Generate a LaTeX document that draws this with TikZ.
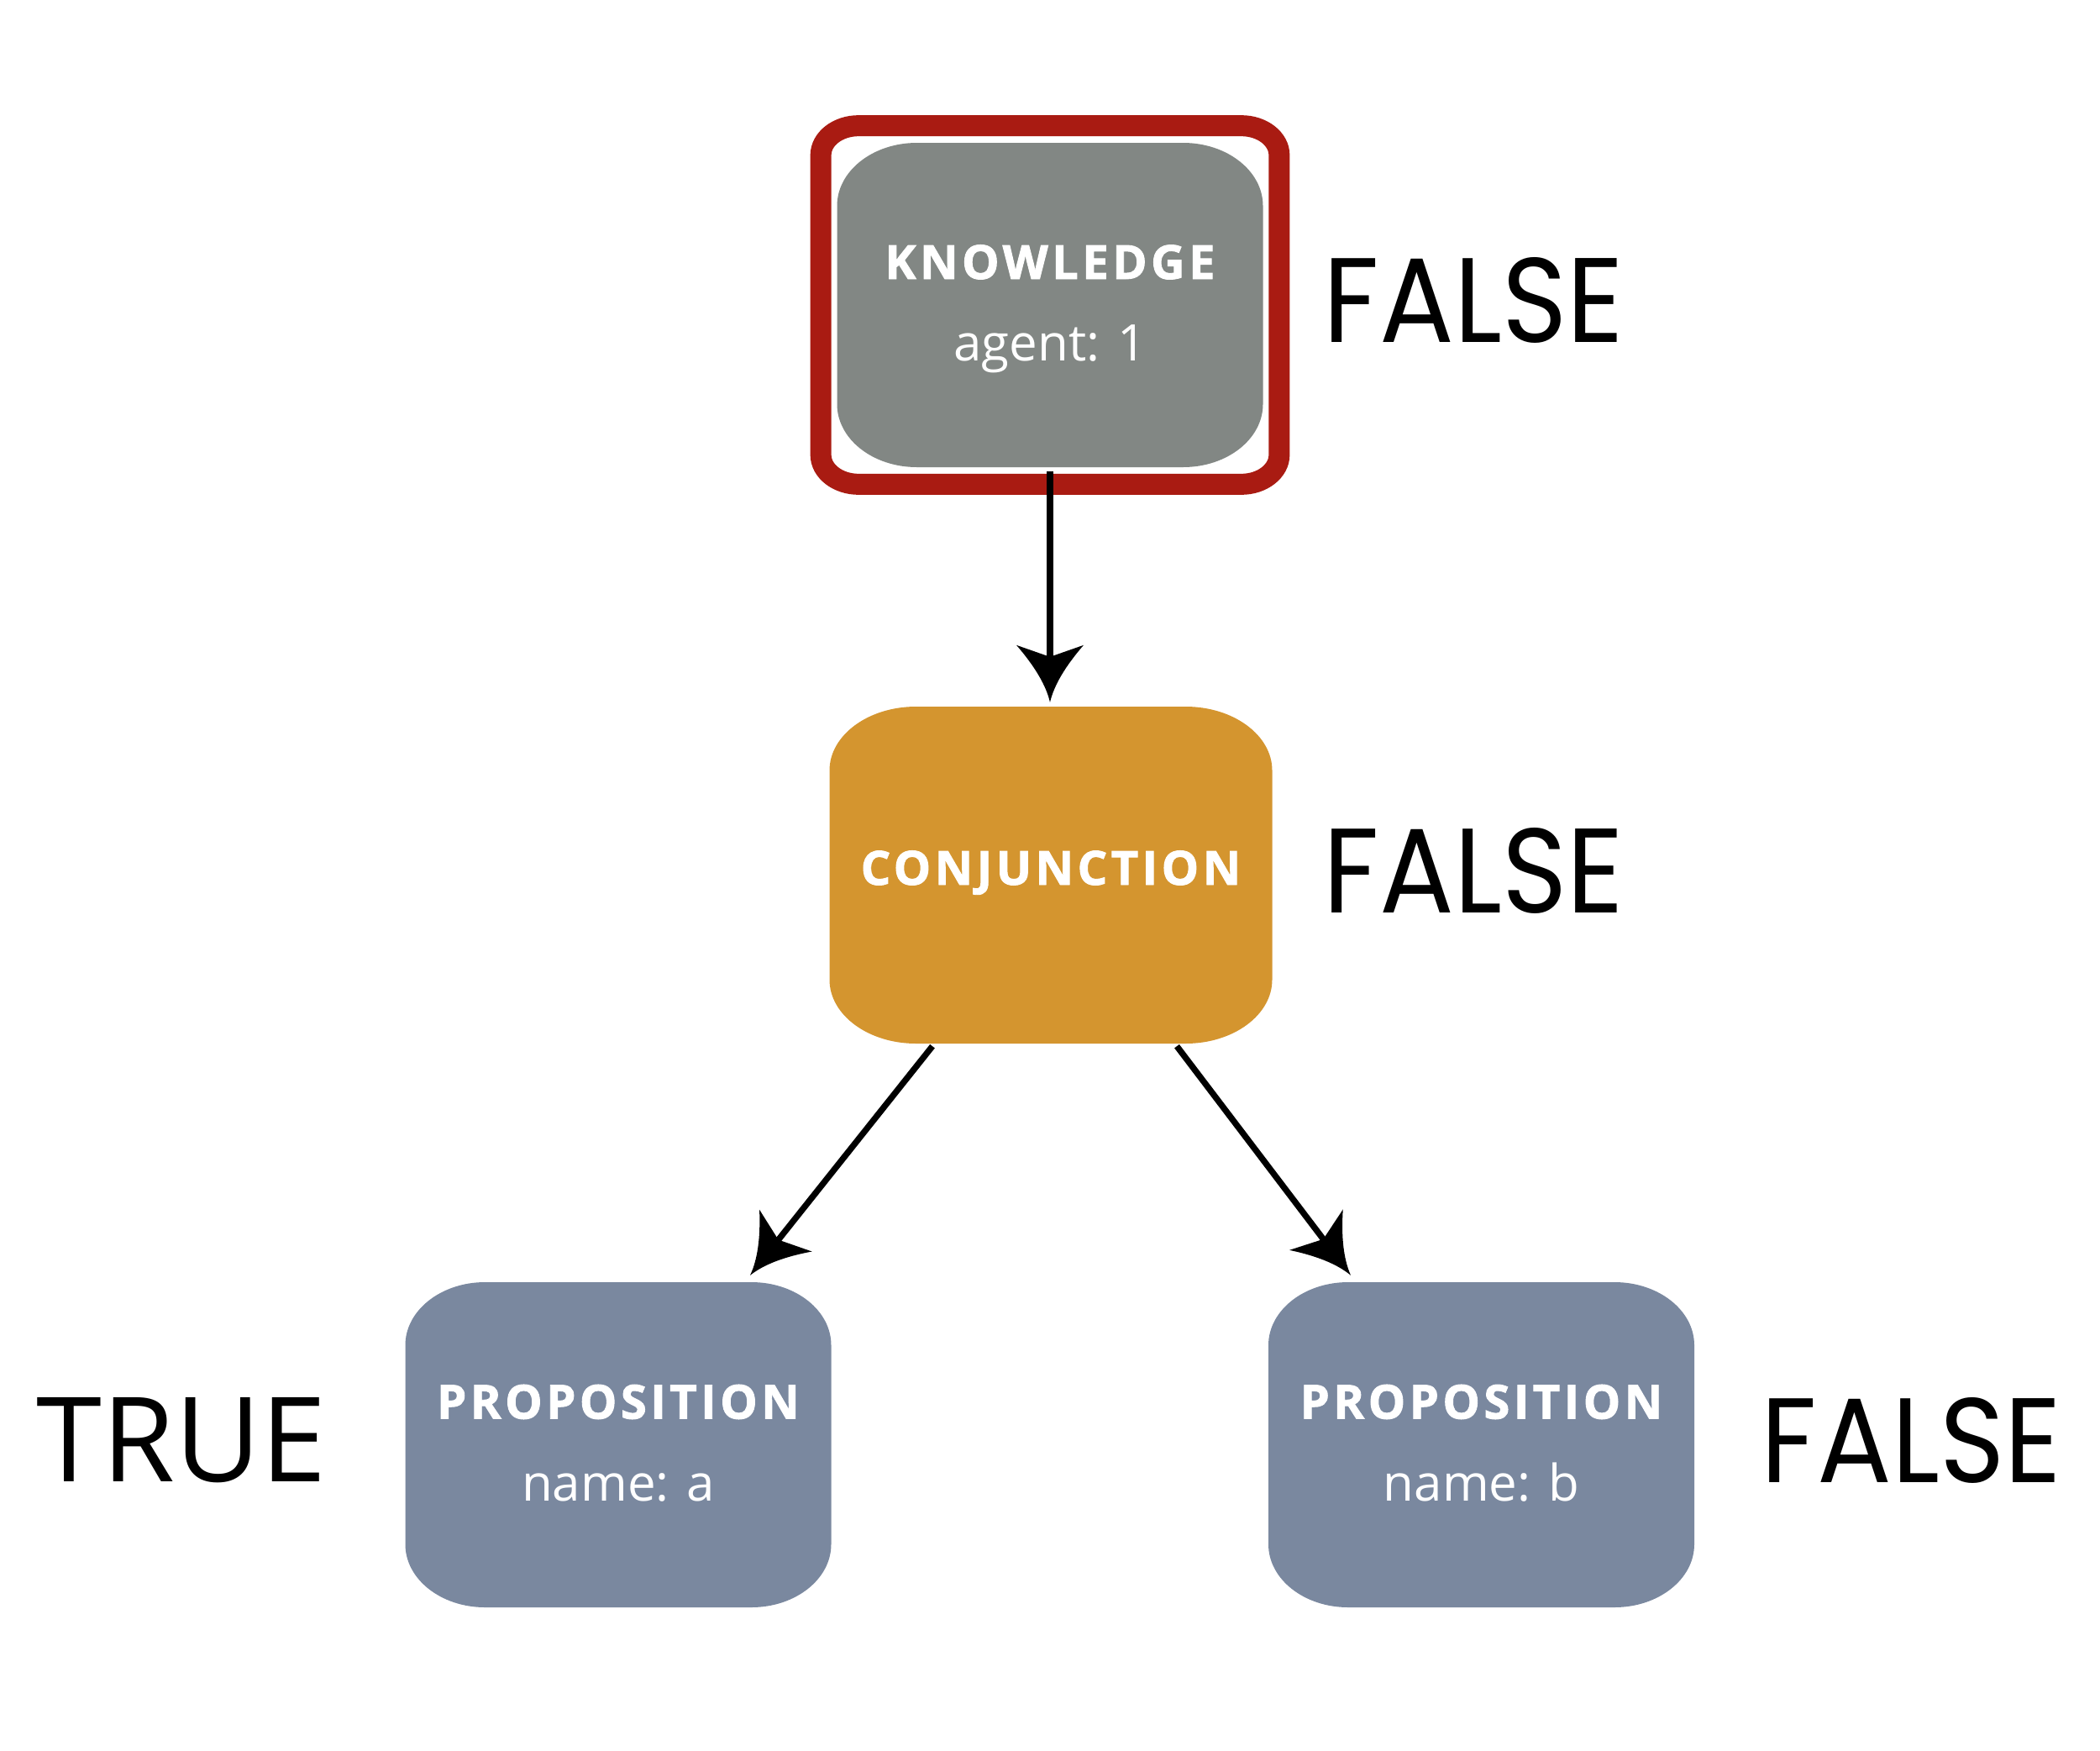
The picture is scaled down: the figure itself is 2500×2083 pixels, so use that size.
\documentclass[tikz,border=0pt]{standalone}
\usepackage{fontspec}
\usepackage{graphicx}
\newfontfamily\osans{Open Sans}
\newfontfamily\ostitle[LetterSpace=8, BoldFeatures={FakeBold=1.6}]{Open Sans}
\newfontfamily\popp{Poppins}
\definecolor{kgray}{RGB}{130,135,132}
\definecolor{conjor}{RGB}{212,149,47}
\definecolor{propbl}{RGB}{122,136,159}
\definecolor{frred}{RGB}{169,27,18}
\newcommand\blobpath[4]{(-#1+#3,-#2) -- (#1-#3,-#2) arc[start angle=-90,end angle=0,x radius=#3,y radius=#4] -- (#1,#2-#4) arc[start angle=0,end angle=90,x radius=#3,y radius=#4] -- (-#1+#3,#2) arc[start angle=90,end angle=180,x radius=#3,y radius=#4] -- (-#1,-#2+#4) arc[start angle=180,end angle=270,x radius=#3,y radius=#4] -- cycle}
\pgfdeclarearrow{
  name = CStealth,
  setup code = {
    \pgfarrowssettipend{0pt}
    \pgfarrowssetbackend{-68pt}
    \pgfarrowssetlineend{-40pt}
    \pgfarrowshullpoint{0pt}{0pt}
    \pgfarrowshullpoint{-68pt}{40pt}
    \pgfarrowshullpoint{-68pt}{-40pt}
  },
  drawing code = {
    \pgfpathmoveto{\pgfqpoint{0pt}{0pt}}
    \pgfpathquadraticcurveto{\pgfqpoint{-30pt}{7pt}}{\pgfqpoint{-68pt}{40pt}}
    \pgfpathlineto{\pgfqpoint{-54pt}{0pt}}
    \pgfpathlineto{\pgfqpoint{-68pt}{-40pt}}
    \pgfpathquadraticcurveto{\pgfqpoint{-30pt}{-7pt}}{\pgfqpoint{0pt}{0pt}}
    \pgfpathclose
    \pgfusepathqfill
  }
}
\tikzset{
  kbox/.style={rectangle, inner sep=0pt, minimum width=507pt, minimum height=386pt,
    path picture={\fill[kgray, shift={(path picture bounding box.center)}] \blobpath{253.5}{193}{95}{75};}},
  cbox/.style={rectangle, inner sep=0pt, minimum width=527pt, minimum height=401pt,
    path picture={\fill[conjor, shift={(path picture bounding box.center)}] \blobpath{263.5}{200.5}{103}{76};}},
  pbox/.style={rectangle, inner sep=0pt, minimum width=507pt, minimum height=387pt,
    path picture={\fill[propbl, shift={(path picture bounding box.center)}] \blobpath{253.5}{193.5}{95}{75};}},
  ttl/.style={inner sep=0pt, anchor=base, text=white, font=\ostitle\bfseries\fontsize{56}{60}\selectfont},
  sub/.style={inner sep=0pt, anchor=base, text=white, font=\osans\fontsize{60}{64}\selectfont},
  verdict/.style={inner sep=0pt, anchor=center, text=black},
  conn/.style={line width=7.3pt, -CStealth},
  frame/.style={draw=frred, line width=25pt}
}
\begin{document}
\begin{tikzpicture}[x=1pt, y=1pt]
\useasboundingbox (0,0) rectangle (2500,-2083);
% nodes
\node[kbox] (k) at (1250,-363) {};
\node[cbox] (c) at (1251,-1041.5) {};
\node[pbox] (pa) at (736,-1719.5) {};
\node[pbox] (pb) at (1763.5,-1719.5) {};
% red frame around knowledge
\draw[frame, shift={(k.center)}] \blobpath{272.85}{213.35}{45}{35};
% node texts
\node[ttl] (kt) at ([yshift=31pt]k.center) {KNOWLEDGE};
\node[sub] (ks) at ([yshift=-66pt]k.center) {agent: 1};
\node[ttl] (ct) at ([yshift=-11.5pt]c.center) {CONJUNCTION};
\node[ttl] (pat) at ([yshift=31pt]pa.center) {PROPOSITION};
\node[sub] (pas) at ([yshift=-67pt]pa.center) {name: a};
\node[ttl] (pbt) at ([yshift=31pt]pb.center) {PROPOSITION};
\node[sub] (pbs) at ([yshift=-67pt]pb.center) {name: b};
% verdicts
\node[verdict] (f1) at (1754.5,-357.5) {\resizebox{357pt}{101pt}{\popp FALSE}};
\node[verdict] (f2) at (1754.5,-1036) {\resizebox{357pt}{101pt}{\popp FALSE}};
\node[verdict] (f3) at (2275.5,-1714) {\resizebox{357pt}{101pt}{\popp FALSE}};
\node[verdict] (tr) at (216.5,-1714) {\resizebox{345pt}{100pt}{\osans TRUE}};
% connectors
\draw[conn] ([yshift=-4.7pt]k.south) -- ([yshift=5pt]k.south |- c.north);
\draw[conn] ([xshift=-141pt,yshift=-3pt]c.south) -- ([xshift=157pt,yshift=8pt]pa.north);
\draw[conn] ([xshift=150pt,yshift=-3pt]c.south) -- ([xshift=-155.5pt,yshift=8pt]pb.north);
\end{tikzpicture}
\end{document}
